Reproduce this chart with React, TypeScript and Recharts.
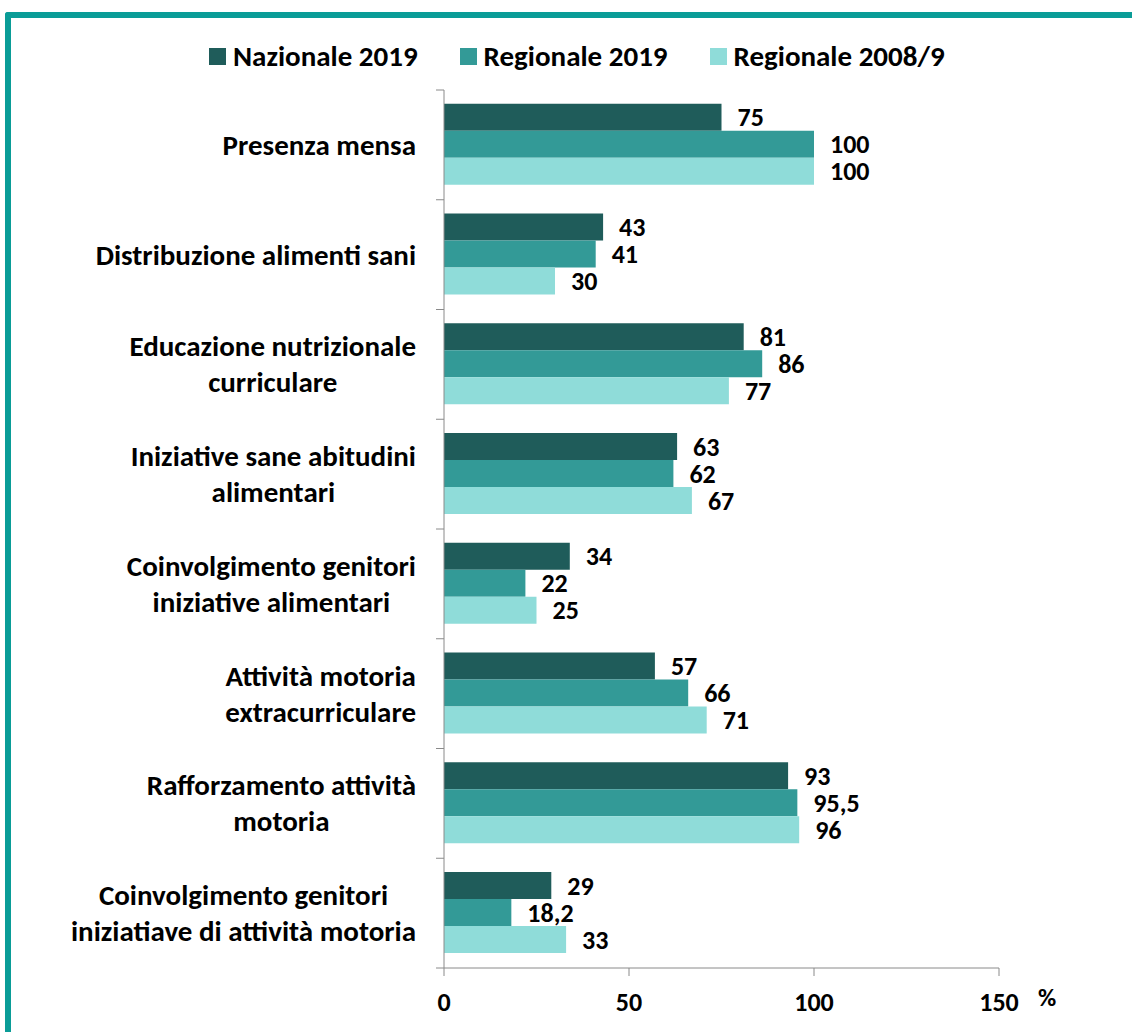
import React from "react";
import { BarChart, Bar, XAxis, YAxis, LabelList } from "recharts";

// Categories (a "\n" marks the line break used in the reference)
const categories = [
  "Presenza mensa",
  "Distribuzione alimenti sani",
  "Educazione nutrizionale\ncurriculare",
  "Iniziative sane abitudini\nalimentari",
  "Coinvolgimento genitori\niniziative alimentari",
  "Attività motoria\nextracurriculare",
  "Rafforzamento attività\nmotoria",
  "Coinvolgimento genitori\niniziatiave di attività motoria",
];

const nazionale2019 = [75, 43, 81, 63, 34, 57, 93, 29];
const regionale2019 = [100, 41, 86, 62, 22, 66, 95.5, 18.2];
const regionale2008 = [100, 30, 77, 67, 25, 71, 96, 33];

const xTicks = [0, 50, 100, 150];

const series = [
  { key: "naz19", name: "Nazionale 2019", color: "#1F5C5A" },
  { key: "reg19", name: "Regionale 2019", color: "#339A97" },
  { key: "reg08", name: "Regionale 2008/9", color: "#8FDCD9" },
];

const data = categories.map((name, i) => ({
  name,
  naz19: nazionale2019[i],
  reg19: regionale2019[i],
  reg08: regionale2008[i],
}));

const FONT = "Carlito, Calibri, Lato, sans-serif";
const AXIS = "#8A8A8A";

const W = 1132;
const H = 1032;
const M = { top: 90, right: 133, bottom: 24, left: 0 };
const Y_W = 444;
const X_H = 40;
const PLOT_H = H - M.top - M.bottom - X_H;

const fmt = (v: any) => String(v).replace(".", ",");

const CategoryTick = (props: any) => {
  const { x, y, payload, index } = props;
  const band = PLOT_H / categories.length;
  return (
    <g>
      <line x1={x - 8} x2={x} y1={y - band / 2} y2={y - band / 2} stroke={AXIS} />
      {index === categories.length - 1 && (
        <line x1={x - 8} x2={x} y1={y + band / 2} y2={y + band / 2} stroke={AXIS} />
      )}
      <foreignObject x={x - 28 - 430} y={y - 50} width={430} height={100}>
        <div
          style={{
            width: 430,
            height: 100,
            display: "flex",
            alignItems: "center",
            justifyContent: "flex-end",
          }}
        >
          <div
            style={{
              textAlign: "center",
              whiteSpace: "pre-line",
              fontFamily: FONT,
              fontWeight: 700,
              fontSize: 29,
              lineHeight: "36px",
              color: "#000",
            }}
          >
            {payload.value}
          </div>
        </div>
      </foreignObject>
    </g>
  );
};

export default function App() {
  return (
    <div
      style={{
        position: "absolute",
        left: 0,
        top: 0,
        width: W,
        height: H,
        background: "#fff",
        overflow: "hidden",
      }}
    >
      {/* teal frame, only top and left visible */}
      <div
        style={{
          position: "absolute",
          left: 5,
          top: 12,
          width: W + 20,
          height: H + 20,
          borderTop: "6px solid #0A9C97",
          borderLeft: "6px solid #0A9C97",
          borderTopLeftRadius: 3,
        }}
      />
      {/* legend */}
      <div
        style={{
          position: "absolute",
          left: 209,
          top: 38,
          height: 36,
          display: "flex",
          alignItems: "center",
          fontFamily: FONT,
          fontWeight: 700,
          fontSize: 29,
          lineHeight: "36px",
          color: "#000",
        }}
      >
        {series.map((s) => (
          <div key={s.key} style={{ display: "flex", alignItems: "center", marginRight: 42 }}>
            <span style={{ width: 17, height: 17, background: s.color, marginRight: 7 }} />
            <span>{s.name}</span>
          </div>
        ))}
      </div>
      <div style={{ position: "absolute", left: 0, top: 0 }}>
        <BarChart
          width={W}
          height={H}
          data={data}
          layout="vertical"
          margin={M}
          barCategoryGap="12.5%"
          barGap={0}
        >
          <XAxis
            type="number"
            domain={[0, 150]}
            ticks={xTicks}
            height={X_H}
            tickSize={8}
            tickMargin={17}
            axisLine={{ stroke: AXIS }}
            tickLine={{ stroke: AXIS }}
            tick={{ fill: "#000", fontSize: 26, fontWeight: 700, fontFamily: FONT }}
            label={{
              value: "%",
              position: "right",
              offset: 39,
              dy: 9,
              fill: "#000",
              fontSize: 25,
              fontWeight: 700,
              fontFamily: FONT,
            }}
          />
          <YAxis
            type="category"
            dataKey="name"
            width={Y_W}
            tickSize={0}
            tickMargin={0}
            tickLine={false}
            axisLine={{ stroke: AXIS }}
            tick={<CategoryTick />}
            interval={0}
          />
          {series.map((s) => (
            <Bar key={s.key} dataKey={s.key} name={s.name} fill={s.color} isAnimationActive={false}>
              <LabelList
                dataKey={s.key}
                position="right"
                offset={16}
                formatter={fmt}
                fill="#000"
                fontSize={26}
                fontWeight={700}
                fontFamily={FONT}
              />
            </Bar>
          ))}
        </BarChart>
      </div>
    </div>
  );
}
